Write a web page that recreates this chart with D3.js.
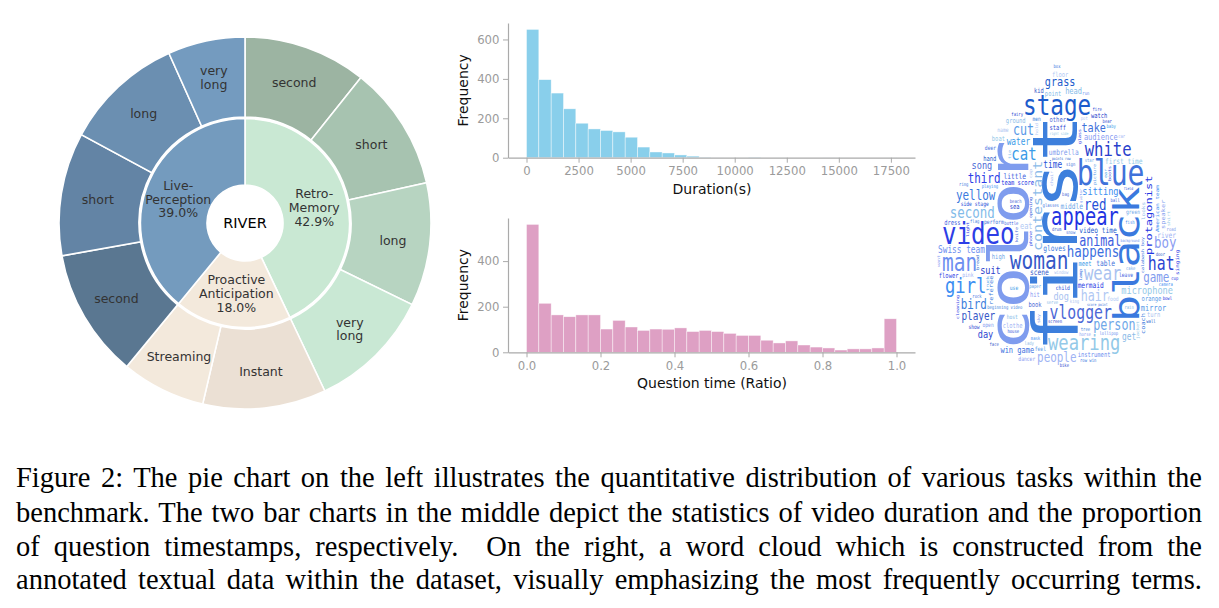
<!DOCTYPE html>
<html>
<head>
<meta charset="utf-8">
<script src="https://cdn.jsdelivr.net/npm/d3@7"></script>
<style>
  body { margin: 0; background: #fff; }
  svg { display: block; }
</style>
</head>
<body>
<svg id="fig" width="1219" height="608"></svg>
<script>
// ---------- sunburst data ----------
const groups = ["Retro-\nMemory", "Proactive\nAnticipation", "Live-\nPerception"];
const subLabels = [
  ["second", "short", "long", "very\nlong"],
  ["Instant", "Streaming"],
  ["second", "short", "long", "very\nlong"]
];
const subValues = [
  [10.7, 10.8, 10.7, 10.7],
  [10.7, 7.3],
  [11.2, 10.7, 10.4, 6.7]
];
const groupColors = ["#c9e8d3", "#f3e9dc", "#749bbe"];
const subColors = [
  ["#9cb4a2", "#a7c3b0", "#b7d4c1", "#c9e8d4"],
  ["#ebe0d4", "#f3e9dc"],
  ["#5a7791", "#6384a5", "#6b8fb1", "#749bbf"]
];

// ---------- histogram data (30 bins each) ----------
const durationMax = 17770;
const durationCounts = [651, 396, 328, 248, 175, 146, 138, 131, 104, 54,
                        29, 24, 14, 8, 3, 2, 1, 1, 3, 0,
                        1, 0, 0, 0, 2, 1, 0, 0, 0, 1];
const durationTicks = [0, 2500, 5000, 7500, 10000, 12500, 15000, 17500];
const ratioCounts = [561, 215, 164, 156, 164, 164, 102, 140, 111, 96,
                     102, 101, 107, 91, 96, 91, 83, 74, 74, 53,
                     41, 50, 32, 23, 19, 10, 15, 15, 19, 147];
const ratioTicks = [0, 0.2, 0.4, 0.6, 0.8, 1.0];
const freqTicksTop = [0, 200, 400, 600];
const freqTicksBottom = [0, 200, 400];

// ---------- word cloud data ----------
const words = [
  "first", "color", "video", "black", "blue", "stage", "wearing", "appear", "woman", "man",
  "girl", "vlogger", "white", "wear", "hat", "cat", "contestant", "happens", "red", "second",
  "boy", "cut", "hair", "person", "animal", "people", "bird", "game", "third", "yellow",
  "take", "grass", "microphone", "protagonist", "player", "Swiss team", "sitting", "song", "suit", "dog",
  "day", "water", "get", "win game", "time", "head", "audience", "mirror", "eat",
  "middle", "little", "river", "beginning video", "umbrella", "mermaid", "gloves", "table", "video time", "first time",
  "team score", "scene", "instrument", "American team",
  "book", "sea", "turn", "staff", "meet", "ground", "calabash boy", "side stage", "point", "hit",
  "orange", "floor", "high", "dress", "clothe", "referee", "speaker", "flower", "coach", "perform",
  "hand", "boat", "singing", "kid", "lollipop", "playing", "other", "watch",
  "name", "show", "use", "looks", "deer", "child", "host", "dancer", "feel", "food",
  "green", "leave", "pink", "men", "open", "cleaning", "row win", "score point", "points row",
  "right side", "light", "face", "background", "mask", "beach", "screen", "window", "fairy", "ear",
  "serve", "glasses", "opening", "tie", "want", "picture", "hold", "cake", "ball", "car",
  "tree", "sky", "phone", "box", "sign", "wall", "shirt", "cup", "door", "run",
  "fish", "bag", "bear", "king", "fire", "baby", "lady", "rock", "house", "rain",
  "horse", "paper", "pot", "star", "bottle", "chair", "flag", "road", "glass", "ring",
  "snow", "bread", "jacket", "bowl", "drum", "guitar", "camera", "knife", "bike", "cap",
  "boots", "truck", "forest", "lamp", "field"
];
const wordCounts = [
  790, 700, 430, 450, 360, 350, 270, 250, 250, 250,
  220, 220, 200, 200, 190, 180, 180, 170, 160, 160,
  160, 150, 150, 150, 150, 140, 140, 140, 140, 140,
  130, 130, 130, 130, 120, 120, 110, 110, 110, 110,
  110, 100, 100, 100, 100, 90, 90, 90, 90,
  80, 80, 80, 80, 80, 80, 80, 80, 80, 80,
  80, 80, 80, 80,
  70, 70, 70, 70, 70, 70, 70, 70, 70, 70,
  70, 70, 70, 70, 70, 70, 70, 70, 70, 70,
  70, 70, 70, 70, 70, 70, 70, 70,
  60, 60, 60, 60, 60, 60, 60, 60, 60, 60,
  60, 60, 60, 60, 60, 60, 60, 60, 60,
  50, 50, 50, 50, 50, 50, 50, 50, 50, 50,
  50, 50, 50, 50, 50, 50, 50, 50, 50, 50,
  50, 50, 50, 50, 50, 50, 50, 50, 50, 50,
  50, 50, 50, 50, 50, 50, 50, 50, 50, 50,
  50, 50, 50, 50, 50, 50, 50, 50, 50, 50,
  50, 50, 50, 50, 50, 50, 50, 50, 50, 50,
  50, 50, 50, 50, 50
];
const verticalWords = ["first", "color", "black", "contestant", "protagonist", "calabash boy",
  "side stage", "score point", "looks", "coach", "tie", "shirt", "light", "ear", "want",
  "sky", "phone", "hold", "lamp", "cap"];
const wordPalette = ["#3d7fdc", "#7f9cee", "#2d3ee6", "#3a79de", "#3f72da", "#1c5ccc", "#93c9e8",
  "#2233e2", "#3558c8", "#6d8ff0", "#3b8ef2", "#4b68d6", "#2a3fcc", "#a9c2f0", "#2b45d2",
  "#3a9be8", "#8bbbe8", "#3b6fe0", "#2650d8", "#82bbe9", "#8a9cf2", "#5a9ae8", "#b0c8f4",
  "#6fa8e8", "#4060e0", "#9fb4f4"];

const captionLines = [
  "Figure 2: The pie chart on the left illustrates the quantitative distribution of various tasks within the",
  "benchmark. The two bar charts in the middle depict the statistics of video duration and the proportion",
  "of question timestamps, respectively.  On the right, a word cloud which is constructed from the",
  "annotated textual data within the dataset, visually emphasizing the most frequently occurring terms."
];

const svg = d3.select("#fig");
const mplFont = "'DejaVu Sans', sans-serif";

// ================= sunburst =================
const root = d3.hierarchy({
  children: groups.map((g, gi) => ({
    name: g, gi,
    children: subLabels[gi].map((s, si) => ({ name: s, gi, si, value: subValues[gi][si] }))
  }))
}).sum(d => d.value || 0);
d3.partition().size([2 * Math.PI, 1])(root);

const ringR = { 1: [38, 104.5], 2: [106, 186] };
const labelR = { 1: 71, 2: 149 };
const arc = d3.arc()
  .startAngle(d => d.x0).endAngle(d => d.x1)
  .innerRadius(d => ringR[d.depth][0]).outerRadius(d => ringR[d.depth][1]);

const sb = svg.append("g").attr("transform", "translate(245,223)");
const nodes = root.descendants().filter(d => d.depth > 0);
sb.selectAll("path").data(nodes).join("path")
  .attr("d", arc)
  .attr("fill", d => d.depth === 1 ? groupColors[d.data.gi] : subColors[d.data.gi][d.data.si])
  .attr("stroke", "#fff")
  .attr("stroke-width", 1.6);

const fs = 12.5, lh = 13.8;
nodes.forEach(d => {
  const a = (d.x0 + d.x1) / 2, r = labelR[d.depth];
  const cx = r * Math.sin(a), cy = -r * Math.cos(a);
  const lines = d.data.name.split("\n");
  if (d.depth === 1) lines.push((d.value / root.value * 100).toFixed(1) + "%");
  const t = sb.append("text")
    .attr("text-anchor", "middle")
    .style("font-family", mplFont).style("font-size", fs + "px")
    .attr("fill", "#333");
  lines.forEach((ln, k) => {
    t.append("tspan").attr("x", cx)
      .attr("y", cy + (k - (lines.length - 1) / 2) * lh + fs * 0.36)
      .text(ln);
  });
});
sb.append("text").attr("text-anchor", "middle").attr("y", 5.2)
  .style("font-family", mplFont).style("font-size", "14.5px").attr("fill", "#000")
  .text("RIVER");

// ================= histograms =================
function histogram(o) {
  const x = d3.scaleLinear().domain(o.xDomain).range([508, 915]);
  const y = d3.scaleLinear().domain([0, d3.max(o.counts) * 1.05]).range([o.bottom, o.top]);
  const g = svg.append("g");
  const bw = o.xMax / o.counts.length;
  g.selectAll("rect").data(o.counts).join("rect")
    .attr("x", (d, i) => x(i * bw))
    .attr("width", (d, i) => x((i + 1) * bw) - x(i * bw))
    .attr("y", d => y(d))
    .attr("height", d => y(0) - y(d))
    .attr("fill", o.color)
    .attr("stroke", "#fff").attr("stroke-width", 0.6).attr("stroke-opacity", 0.7);

  const styleAxis = sel => {
    sel.select(".domain").attr("stroke", "#aaa").attr("stroke-width", 1.2);
    sel.selectAll(".tick line").attr("stroke", "#aaa");
    sel.selectAll(".tick text").attr("fill", "#9b9b9b")
      .style("font-family", mplFont).style("font-size", "11.7px");
  };
  g.append("g").attr("transform", `translate(0,${o.bottom})`)
    .call(d3.axisBottom(x).tickValues(o.xTicks).tickFormat(o.xFmt)
      .tickSize(5).tickPadding(4.5).tickSizeOuter(0))
    .call(styleAxis);
  g.append("g").attr("transform", "translate(508,0)")
    .call(d3.axisLeft(y).tickValues(o.yTicks).tickSize(5).tickPadding(3.5).tickSizeOuter(0))
    .call(styleAxis);

  g.append("text").attr("x", 712).attr("y", o.bottom + 36)
    .attr("text-anchor", "middle").attr("fill", "#111")
    .style("font-family", mplFont).style("font-size", "14px")
    .text(o.xLabel);
  g.append("text")
    .attr("transform", `translate(468,${(o.top + o.bottom) / 2}) rotate(-90)`)
    .attr("text-anchor", "middle").attr("fill", "#111")
    .style("font-family", mplFont).style("font-size", "14px")
    .text("Frequency");
}

histogram({
  counts: durationCounts, xMax: durationMax,
  xDomain: [-0.05 * durationMax, 1.05 * durationMax],
  top: 23, bottom: 157.7, color: "#89cfeb",
  xTicks: durationTicks, xFmt: d3.format("d"), yTicks: freqTicksTop,
  xLabel: "Duration(s)"
});
histogram({
  counts: ratioCounts, xMax: 1,
  xDomain: [-0.05, 1.05],
  top: 218, bottom: 352.3, color: "#dea0c4",
  xTicks: ratioTicks, xFmt: d3.format(".1f"), yTicks: freqTicksBottom,
  xLabel: "Question time (Ratio)"
});

// ================= word cloud =================
// occupancy grid in an unsqueezed layout space, droplet mask, random free
// position per word found through an integral image (like python wordcloud)
const SQ = 0.78, LW = 330, LH = 322, X0 = 931, Y0 = 51;
function inDrop(fx, fy) {
  const cx = 1059, tipY = 57, midY = 262, botY = 369, rx = 123;
  if (fy < tipY || fy > botY) return false;
  if (fy >= midY) {
    const ry = botY - midY;
    return ((fx - cx) / rx) ** 2 + ((fy - midY) / ry) ** 2 <= 1;
  }
  const t = (fy - tipY) / (midY - tipY);
  return Math.abs(fx - cx) <= rx * Math.sin(t * Math.PI / 2);
}
const grid = new Uint8Array(LW * LH);
for (let yy = 0; yy < LH; yy++)
  for (let xx = 0; xx < LW; xx++)
    grid[yy * LW + xx] = inDrop(X0 + (xx + 0.5) * SQ, Y0 + yy + 0.5) ? 0 : 1;

const W1 = LW + 1;
const integ = new Int32Array(W1 * (LH + 1));
function buildIntegral() {
  for (let y = 0; y < LH; y++) {
    let row = 0;
    for (let x = 0; x < LW; x++) {
      row += grid[y * LW + x];
      integ[(y + 1) * W1 + x + 1] = integ[y * W1 + x + 1] + row;
    }
  }
}
buildIntegral();

function mulberry(seed) {
  return function () {
    seed = seed + 0x6D2B79F5 | 0;
    let t = Math.imul(seed ^ seed >>> 15, 1 | seed);
    t = t + Math.imul(t ^ t >>> 7, 61 | t) ^ t;
    return ((t ^ t >>> 14) >>> 0) / 4294967296;
  };
}
const rand = mulberry(11);

const cvs = document.createElement("canvas");
cvs.width = 420; cvs.height = 420;
const ctx = cvs.getContext("2d", { willReadFrequently: true });
const cloudFont = "'DejaVu Sans Mono', monospace";

// ink pixels of a word, in a box with 1px margin each side
function sprite(word, size, vert) {
  ctx.setTransform(1, 0, 0, 1, 0, 0);
  ctx.clearRect(0, 0, cvs.width, cvs.height);
  ctx.font = `${size}px ${cloudFont}`;
  ctx.fillStyle = "#000";
  const m = ctx.measureText(word);
  const L = Math.ceil(m.actualBoundingBoxLeft) + 1, R = Math.ceil(m.actualBoundingBoxRight) + 1;
  const A = Math.ceil(m.actualBoundingBoxAscent) + 1, D = Math.ceil(m.actualBoundingBoxDescent) + 1;
  let w, h, ox, oy;
  if (!vert) {
    w = L + R; h = A + D; ox = L; oy = A;
    ctx.fillText(word, ox, oy);
  } else {
    w = A + D; h = L + R; ox = A; oy = R;
    ctx.translate(ox, oy); ctx.rotate(-Math.PI / 2); ctx.fillText(word, 0, 0);
  }
  const img = ctx.getImageData(0, 0, w, h).data;
  const px = [];
  for (let j = 0; j < h; j++)
    for (let i = 0; i < w; i++)
      if (img[(j * w + i) * 4 + 3] > 30) px.push(i, j);
  return { w, h, ox, oy, px };
}

function boxFree(x, y, w, h) {
  return integ[(y + h) * W1 + x + w] - integ[y * W1 + x + w]
       - integ[(y + h) * W1 + x] + integ[y * W1 + x] === 0;
}
function findPos(w, h) {
  let count = 0;
  for (let y = 0; y <= LH - h; y++)
    for (let x = 0; x <= LW - w; x++)
      if (boxFree(x, y, w, h)) count++;
  if (!count) return null;
  let k = Math.floor(rand() * count);
  for (let y = 0; y <= LH - h; y++)
    for (let x = 0; x <= LW - w; x++)
      if (boxFree(x, y, w, h) && k-- === 0) return [x, y];
  return null;
}
function mark(sp, x, y) {
  const p = sp.px;
  for (let k = 0; k < p.length; k += 2) grid[(y + p[k + 1]) * LW + x + p[k]] = 1;
  buildIntegral();
}

const sizeScale = d3.scaleLinear().domain([0, d3.max(wordCounts)]).range([0, 79]);
const colorOf = d3.scaleOrdinal().domain(words).range(wordPalette);
const order = d3.range(words.length).sort((a, b) => wordCounts[b] - wordCounts[a]);
const cloud = svg.append("g").attr("transform", `translate(${X0},${Y0}) scale(${SQ},1)`);

order.forEach(i => {
  const wd = words[i];
  const baseVert = verticalWords.includes(wd);
  let vert = baseVert, triedOther = false;
  let size = Math.round(sizeScale(wordCounts[i]));
  while (size >= 4) {
    const sp = sprite(wd, size, vert);
    const pos = findPos(sp.w, sp.h);
    if (pos) {
      mark(sp, pos[0], pos[1]);
      const t = cloud.append("text")
        .style("font-family", cloudFont).style("font-size", size + "px")
        .attr("fill", colorOf(wd)).text(wd);
      if (vert) t.attr("transform", `translate(${pos[0] + sp.ox},${pos[1] + sp.oy}) rotate(-90)`);
      else t.attr("x", pos[0] + sp.ox).attr("y", pos[1] + sp.oy);
      break;
    }
    // small words may turn; larger ones keep their direction and shrink
    if (!triedOther && size < 12) { vert = !vert; triedOther = true; }
    else { size -= 1; vert = baseVert; triedOther = false; }
  }
});

// ================= caption =================
const capLeft = 16, capWidth = 1186;
const capBase = [486.5, 521.5, 555.5, 589];
captionLines.forEach((ln, k) => {
  const t = svg.append("text")
    .attr("x", capLeft).attr("y", capBase[k])
    .style("font-family", "'Liberation Serif', 'Times New Roman', serif")
    .style("font-size", "28.5px").style("white-space", "pre")
    .attr("fill", "#000").text(ln);
  const len = t.node().getComputedTextLength();
  const spaces = (ln.match(/ /g) || []).length;
  t.style("word-spacing", ((capWidth - len) / spaces) + "px");
});
</script>
</body>
</html>
